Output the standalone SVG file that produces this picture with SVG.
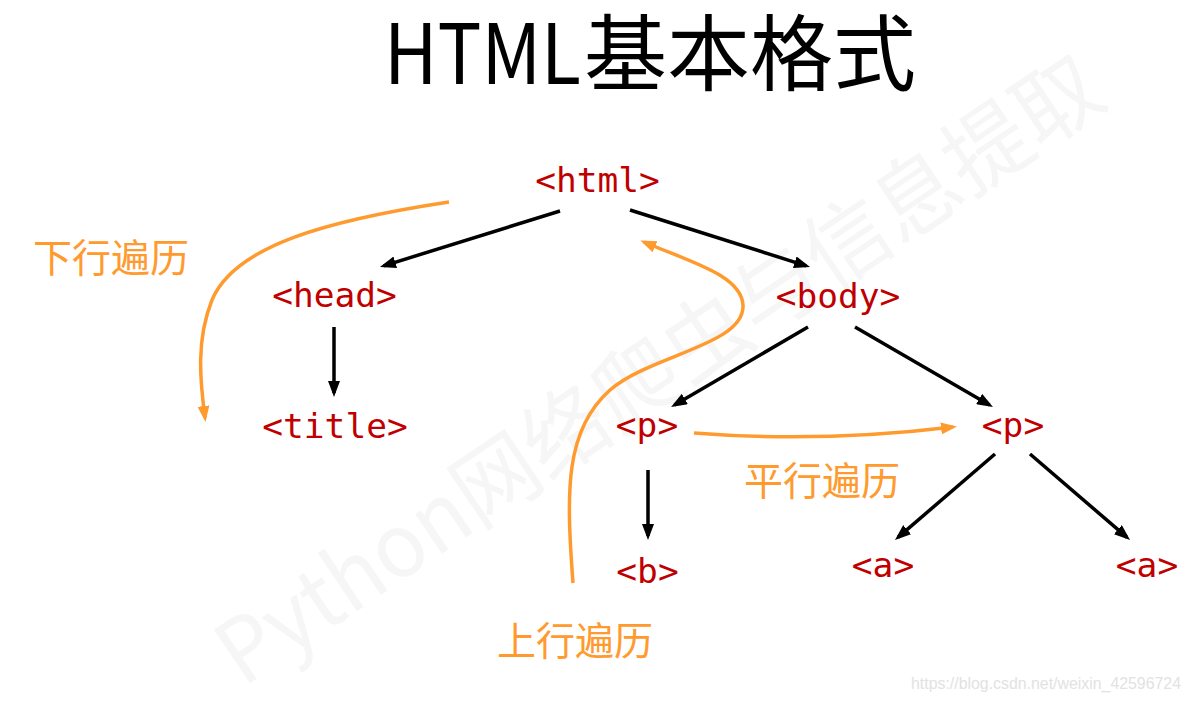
<svg xmlns="http://www.w3.org/2000/svg" width="1191" height="703" viewBox="0 0 1191 703">
<style>
.node{font-family:"DejaVu Sans Mono","Liberation Mono",monospace;font-size:34.5px;fill:#C00000;text-anchor:middle}
.lbl{font-family:"Noto Sans CJK SC","Noto Sans",sans-serif;font-size:39px;fill:#FF9A2E}
.edge{stroke:#000;stroke-width:3.5;fill:none;marker-end:url(#ah)}
.trav{stroke:#FF9A2E;stroke-width:3.5;fill:none;marker-end:url(#ao)}
</style>
<defs>
<marker id="ah" viewBox="0 0 16 12" refX="12" refY="6" markerWidth="16" markerHeight="12" markerUnits="userSpaceOnUse" orient="auto">
<path d="M0,0 L16,6 L0,12 z" fill="#000"/>
</marker>
<marker id="ao" viewBox="0 0 16 12" refX="12" refY="6" markerWidth="16" markerHeight="12" markerUnits="userSpaceOnUse" orient="auto">
<path d="M0,0 L16,6 L0,12 z" fill="#FF9A2E"/>
</marker>
</defs>
<rect width="1191" height="703" fill="#fff"/>
<g id="watermark">
<text x="243" y="688" transform="rotate(-34 243 688)" font-family="Noto Sans CJK SC,Noto Sans,sans-serif" font-size="88" fill="#f6f6f6" textLength="1046" lengthAdjust="spacingAndGlyphs">Python网络爬虫与信息提取</text>
<text x="911" y="689" font-family="Liberation Sans,Arial,sans-serif" font-size="17" fill="#e2e2e2" textLength="270" lengthAdjust="spacingAndGlyphs">https://blog.csdn.net/weixin_42596724</text>
</g>
<g id="title">
<text y="84" font-family="Noto Sans CJK SC,Noto Sans,sans-serif" font-size="83" fill="#000"><tspan x="384" textLength="197" lengthAdjust="spacingAndGlyphs">HTML</tspan><tspan x="584">基本格式</tspan></text>
</g>
<g id="connectors">
<path class="edge" d="M560,211 L383.8,265.8"/>
<path class="edge" d="M630,210 L806.2,265.8"/>
<path class="edge" d="M334,327 L334,393"/>
<path class="edge" d="M808,327 L674.5,405"/>
<path class="edge" d="M855,327 L989.5,405"/>
<path class="edge" d="M648,470 L648,536"/>
<path class="edge" d="M995,454 L898,537.4"/>
<path class="edge" d="M1030,454 L1127,537.4"/>
<path class="trav" d="M449,202 C330,220 235,245 212,300 C196,340 200,380 205,418"/>
<path class="trav" d="M573,583 C566,490 565,430 610,390 C650,355 745,345 743,305 C741,275 690,262 644,242"/>
<path class="trav" d="M694,433 Q820,443 953,427"/>
</g>
<g id="n-html"><text class="node" x="597.5" y="192">&lt;html&gt;</text></g>
<g id="n-head"><text class="node" x="334.5" y="307">&lt;head&gt;</text></g>
<g id="n-title"><text class="node" x="335" y="438">&lt;title&gt;</text></g>
<g id="n-body"><text class="node" x="838" y="308">&lt;body&gt;</text></g>
<g id="n-p1"><text class="node" x="647" y="437">&lt;p&gt;</text></g>
<g id="n-p2"><text class="node" x="1013" y="437">&lt;p&gt;</text></g>
<g id="n-b"><text class="node" x="647.5" y="583">&lt;b&gt;</text></g>
<g id="n-a1"><text class="node" x="883" y="577">&lt;a&gt;</text></g>
<g id="n-a2"><text class="node" x="1147" y="577">&lt;a&gt;</text></g>
<g id="labels">
<text class="lbl" x="33" y="272">下行遍历</text>
<text class="lbl" x="497" y="655">上行遍历</text>
<text class="lbl" x="744" y="495">平行遍历</text>
</g>
</svg>
